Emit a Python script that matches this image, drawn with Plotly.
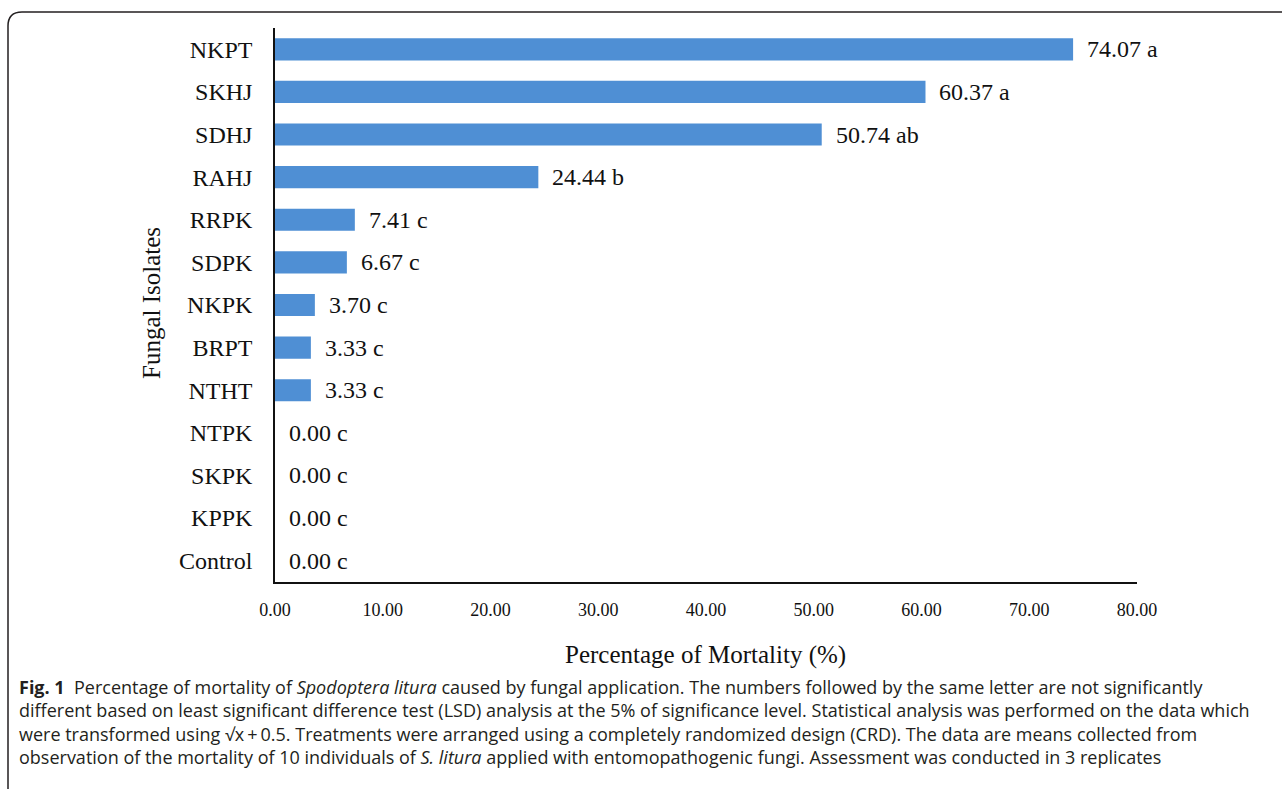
import plotly.graph_objects as go

categories = ["NKPT", "SKHJ", "SDHJ", "RAHJ", "RRPK", "SDPK", "NKPK", "BRPT", "NTHT", "NTPK", "SKPK", "KPPK", "Control"]
values = [74.07, 60.37, 50.74, 24.44, 7.41, 6.67, 3.70, 3.33, 3.33, 0.00, 0.00, 0.00, 0.00]
letters = ["a", "a", "ab", "b", "c", "c", "c", "c", "c", "c", "c", "c", "c"]
x_ticks = [0, 10, 20, 30, 40, 50, 60, 70, 80]

caption_lines = [
    "<b>Fig. 1</b>  Percentage of mortality of <i>Spodoptera litura</i> caused by fungal application. The numbers followed by the same letter are not significantly",
    "different based on least significant difference test (LSD) analysis at the 5% of significance level. Statistical analysis was performed on the data which",
    "were transformed using \u221ax\u2009+\u20090.5. Treatments were arranged using a completely randomized design (CRD). The data are means collected from",
    "observation of the mortality of 10 individuals of <i>S. litura</i> applied with entomopathogenic fungi. Assessment was conducted in 3 replicates",
]

W, H = 1282, 789
ML, MR, MT, MB = 275, 145, 28, 207
PW, PH = W - ML - MR, H - MT - MB


def px(x):
    return (x - ML) / PW


def py(y):
    return (H - MB - y) / PH


SERIF = "Liberation Serif, Times New Roman, serif"

fig = go.Figure()
fig.add_trace(go.Bar(
    y=categories,
    x=values,
    orientation="h",
    width=0.52,
    marker=dict(color="#4f8fd4", line=dict(width=0)),
    hoverinfo="x+y",
))

annotations = []
for c, v, l in zip(categories, values, letters):
    annotations.append(dict(
        x=v, y=c, xref="x", yref="y", text=f"{v:.2f} {l}",
        showarrow=False, xanchor="left", yanchor="middle", xshift=12,
        font=dict(family=SERIF, size=24, color="#111111"),
    ))

annotations.append(dict(
    x=px(151), y=py(303), xref="paper", yref="paper", text="Fungal Isolates",
    textangle=-90, showarrow=False, xanchor="center", yanchor="middle",
    font=dict(family=SERIF, size=25, color="#111111"),
))
annotations.append(dict(
    x=px(705), y=py(655), xref="paper", yref="paper", text="Percentage of Mortality (%)",
    showarrow=False, xanchor="center", yanchor="middle",
    font=dict(family=SERIF, size=25, color="#111111"),
))

annotations.append(dict(
    x=px(17), y=py(722), xref="paper", yref="paper", text="<br>".join(caption_lines),
    showarrow=False, xanchor="left", yanchor="middle", align="left",
    font=dict(family="Open Sans, Noto Sans, sans-serif", size=18, color="#231f20"),
))

r = 14
bx0, by0 = 8, 12
path = (
    f"M {px(bx0)},{py(H + 20)} "
    f"L {px(bx0)},{py(by0 + r)} "
    f"Q {px(bx0)},{py(by0)} {px(bx0 + r)},{py(by0)} "
    f"L {px(W + 20)},{py(by0)}"
)

fig.update_layout(
    width=W, height=H,
    margin=dict(l=ML, r=MR, t=MT, b=MB, pad=0),
    paper_bgcolor="white", plot_bgcolor="white",
    showlegend=False,
    bargap=0.48,
    annotations=annotations,
    shapes=[dict(type="path", xref="paper", yref="paper", path=path,
                 line=dict(color="#231f20", width=1.5))],
    xaxis=dict(
        range=[0, 80], tickvals=x_ticks,
        ticktext=[f"{t:.2f}" for t in x_ticks],
        showgrid=False, zeroline=False, showline=True, linecolor="#111111", linewidth=1.5,
        ticks="", ticklabelstandoff=11,
        tickfont=dict(family=SERIF, size=18, color="#111111"),
        fixedrange=True,
    ),
    yaxis=dict(
        categoryorder="array", categoryarray=categories[::-1],
        range=[-0.5, 12.5],
        showgrid=False, zeroline=False, showline=True, linecolor="#111111", linewidth=1.5,
        ticks="", ticklabelstandoff=16,
        tickfont=dict(family=SERIF, size=24, color="#111111"),
        fixedrange=True,
    ),
)

fig.write_html("out.html")
